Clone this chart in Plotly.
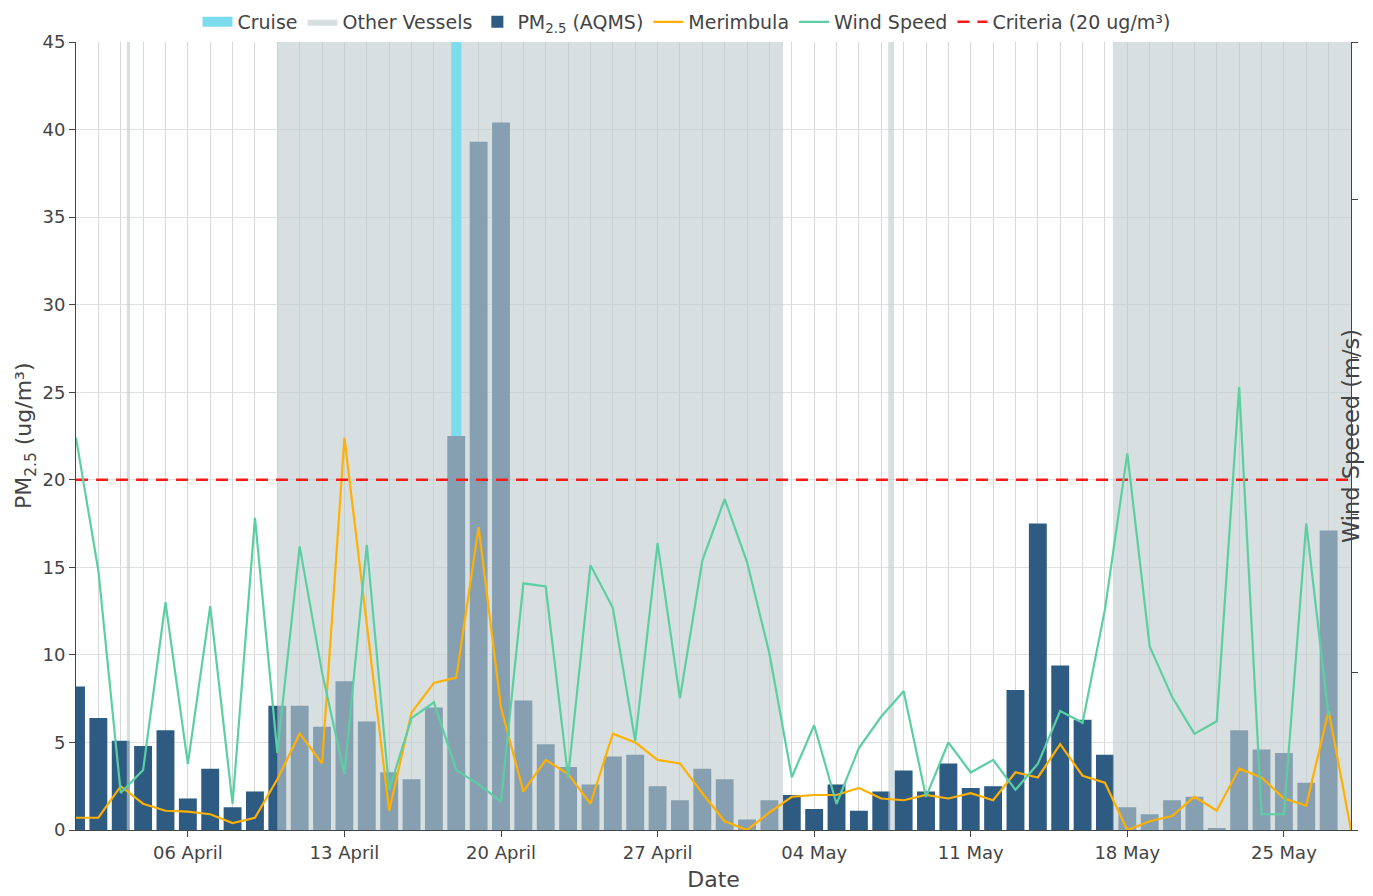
import plotly.graph_objects as go
import pandas as pd

# ---------------- data ----------------
pm_dates = pd.date_range("2024-04-01", "2024-05-27", freq="D")
pm25 = [8.2, 6.4, 5.1, 4.8, 5.7, 1.8, 3.5, 1.3, 2.2, 7.1,
        7.1, 5.9, 8.5, 6.2, 3.3, 2.9, 7.0, 22.5, 39.3, 40.4,
        7.4, 4.9, 3.6, 2.6, 4.2, 4.3, 2.5, 1.7, 3.5, 2.9,
        0.6, 1.7, 2.0, 1.2, 2.6, 1.1, 2.2, 3.4, 2.2, 3.8,
        2.4, 2.5, 8.0, 17.5, 9.4, 6.3, 4.3, 1.3, 0.9, 1.7,
        1.9, 0.1, 5.7, 4.6, 4.4, 2.7, 17.1]

mer_dates = pd.date_range("2024-04-01", "2024-05-28", freq="D")
merimbula = [0.7, 0.7, 2.5, 1.5, 1.1, 1.05, 0.9, 0.4, 0.7, 2.9,
             5.5, 3.8, 22.4, 11.7, 1.1, 6.7, 8.4, 8.7, 17.3, 7.0,
             2.2, 4.0, 3.2, 1.5, 5.5, 5.0, 4.0, 3.8, 2.1, 0.5,
             0.0, 1.0, 1.9, 2.0, 2.0, 2.4, 1.8, 1.7, 2.0, 1.8,
             2.1, 1.7, 3.3, 3.0, 4.9, 3.1, 2.7, 0.0, 0.5, 0.8,
             1.9, 1.1, 3.5, 3.0, 1.8, 1.4, 6.8, 0.0]

wind_dates = pd.date_range("2024-04-01", "2024-05-27", freq="D")
wind_speed = [4.98, 3.29, 0.47, 0.76, 2.89, 0.84, 2.84, 0.33, 3.96, 0.98,
              3.60, 2.00, 0.71, 3.62, 0.51, 1.42, 1.62, 0.76, 0.58, 0.36,
              3.13, 3.09, 0.67, 3.36, 2.82, 1.13, 3.64, 1.67, 3.42, 4.20,
              3.40, 2.24, 0.67, 1.33, 0.33, 1.04, 1.44, 1.76, 0.42, 1.11,
              0.73, 0.89, 0.51, 0.84, 1.51, 1.36, 2.80, 4.78, 2.33, 1.69,
              1.22, 1.38, 5.62, 0.20, 0.20, 3.89, 1.44]

cruise_dates = ["2024-04-18"]
vessel_start = ["2024-04-03 06:30", "2024-04-10 00:00", "2024-05-07 07:30", "2024-05-17 08:30"]
vessel_end = ["2024-04-03 10:00", "2024-05-02 14:40", "2024-05-07 13:40", "2024-05-28 00:00"]

criteria = 20
pm_range = [0, 45]
wind_range = [0, 10]
x_range = ["2024-04-01", "2024-05-28"]

# ---------------- derived shapes from data ----------------
vx, vy = [], []
for s, e in zip(vessel_start, vessel_end):
    vx += [s, s, e, e, s, None]
    vy += [pm_range[0], pm_range[1], pm_range[1], pm_range[0], pm_range[0], None]

pm_lookup = dict(zip(pm_dates.strftime("%Y-%m-%d"), pm25))
cx, cy = [], []
for d in cruise_dates:
    cx += [d, d, None]
    cy += [pm_lookup.get(d, 0), pm_range[1], None]

FONT = "DejaVu Sans"
TXT = "#444444"

fig = go.Figure()

fig.add_trace(go.Bar(
    x=pm_dates, y=pm25, name="PM<sub>2.5</sub> (AQMS)",
    marker=dict(color="#2e5b82", line=dict(width=0)),
    legendrank=3, yaxis="y"))

fig.add_trace(go.Scatter(
    x=vx, y=vy, name="Other Vessels", mode="lines", fill="toself",
    fillcolor="rgba(190,203,206,0.62)", line=dict(width=0, color="rgba(0,0,0,0)"),
    hoverinfo="skip", legendrank=2, yaxis="y"))

fig.add_trace(go.Scatter(
    x=cx, y=cy, name="Cruise", mode="lines",
    line=dict(width=10, color="#7ddbee"), legendrank=1, yaxis="y"))

fig.add_trace(go.Scatter(
    x=mer_dates, y=merimbula, name="Merimbula", mode="lines",
    line=dict(width=2.2, color="#ffb000"), legendrank=4, yaxis="y"))

fig.add_trace(go.Scatter(
    x=x_range, y=[criteria, criteria], name="Criteria (20 ug/m³)", mode="lines",
    line=dict(width=2.5, color="#ff1a1a", dash="12px,8px"), legendrank=6, yaxis="y"))

fig.add_trace(go.Scatter(
    x=wind_dates, y=wind_speed, name="Wind Speed", mode="lines",
    line=dict(width=2.2, color="#5ccfa2"), legendrank=5, yaxis="y2"))

fig.update_layout(
    width=1373, height=896,
    margin=dict(l=76, r=22, t=42, b=66),
    paper_bgcolor="white", plot_bgcolor="white",
    font=dict(family=FONT, size=18, color=TXT),
    bargap=0.2, barmode="overlay",
    showlegend=True,
    legend=dict(orientation="h", xref="container", x=0.5, xanchor="center",
                yref="container", y=1 - 22 / 896, yanchor="middle",
                font=dict(size=19, color=TXT), bgcolor="rgba(0,0,0,0)",
                traceorder="normal"),
    xaxis=dict(
        range=x_range, type="date", tickformat="%d %B",
        tick0="2024-04-06", dtick=7 * 86400000,
        ticks="outside", ticklen=6, tickcolor="#444",
        showgrid=True, gridcolor="#d8d8d8", gridwidth=1,
        minor=dict(dtick=86400000, showgrid=True, gridcolor="#d8d8d8", ticklen=0),
        showline=True, linecolor="#444", linewidth=1,
        title=dict(text="Date", font=dict(size=22, color=TXT), standoff=10),
        automargin=False, zeroline=False,
        tickfont=dict(size=18, color=TXT)),
    yaxis=dict(
        range=pm_range, dtick=5, ticks="outside", ticklen=6, tickcolor="#444",
        showgrid=True, gridcolor="#e0e0e0", zeroline=False,
        showline=True, linecolor="#444", linewidth=1,
        automargin=False, tickfont=dict(size=18, color=TXT)),
    yaxis2=dict(
        range=wind_range, dtick=2, overlaying="y", side="right",
        ticks="outside", ticklen=6, tickcolor="#444",
        showticklabels=False, showgrid=False, zeroline=False,
        showline=True, linecolor="#444", linewidth=1, automargin=False),
    annotations=[
        dict(text="PM<sub>2.5</sub> (ug/m³)", xref="paper", yref="paper", x=0, y=0.5,
             xshift=-51, xanchor="center", yanchor="middle", textangle=-90,
             showarrow=False, font=dict(size=22, color=TXT, family=FONT)),
        dict(text="Wind Speeed (m/s)", xref="paper", yref="paper", x=1.0, y=0.5,
             xanchor="center", yanchor="middle", textangle=-90, showarrow=False,
             font=dict(size=22.5, color=TXT, family=FONT))],
)

fig.write_html("out.html", config={"displayModeBar": False},
               post_script="document.body.style.margin='0';document.body.style.overflow='hidden';")
